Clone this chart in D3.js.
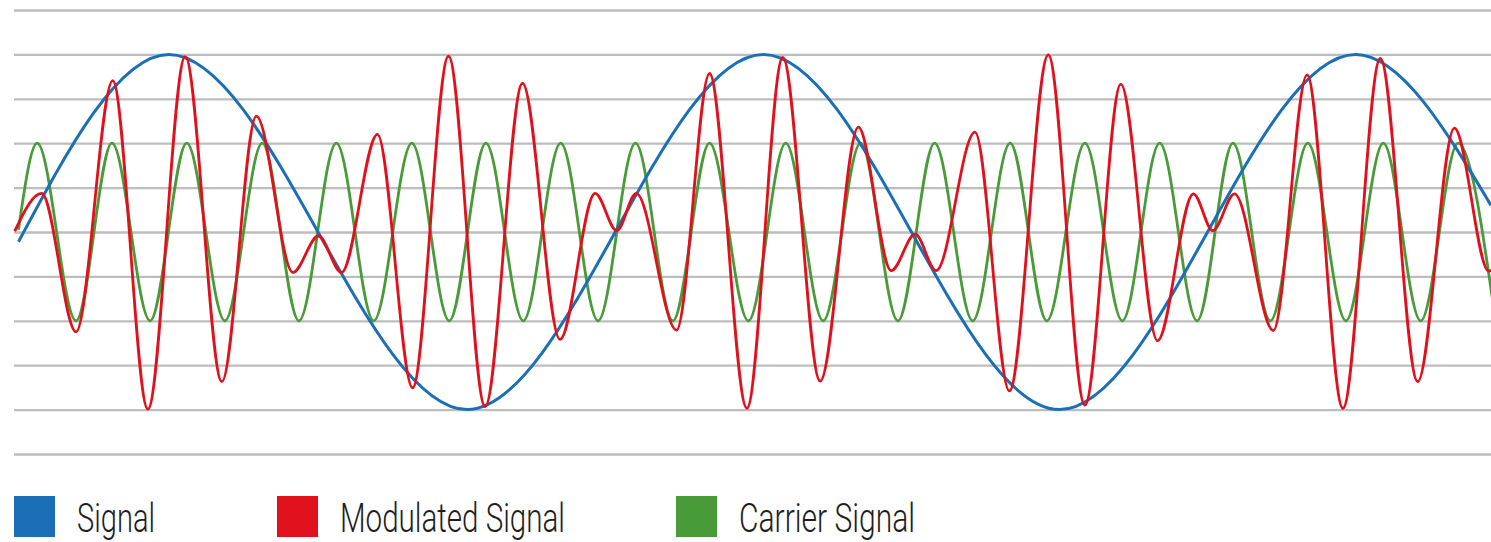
<!DOCTYPE html>
<html>
<head>
<meta charset="utf-8">
<script src="https://cdn.jsdelivr.net/npm/d3@7"></script>
<style>
  html, body { margin: 0; padding: 0; background: #fff; }
  svg { display: block; }
</style>
</head>
<body>
<div id="chart"></div>
<script>
// ===== data (time in ms, amplitude in grid units) =====
const seriesNames = ['Signal', 'Modulated Signal', 'Carrier Signal'];
const gridTicks = [-5, -4, -3, -2, -1, 0, 1, 2, 3, 4, 5];

// signal: start, peaks / troughs, right edge
const signalT = [0.06, 2.07, 6.06, 10.02, 13.98, 17.94, 19.75];
const signalV = [-0.22, 4, -4, 4, -4, 4, 0.6];

// modulated signal: turning points
const modulatedT = [0.01, 0.37, 0.83, 1.32, 1.79, 2.29, 2.78, 3.24, 3.73, 4.07, 4.38, 4.86, 5.33, 5.81,
  6.30, 6.80, 7.30, 7.77, 8.06, 8.32, 8.86, 9.30, 9.80, 10.28, 10.78, 11.29, 11.73, 12.05, 12.33,
  12.85, 13.31, 13.83, 14.32, 14.80, 15.29, 15.77, 16.03, 16.32, 16.84, 17.29, 17.77, 18.27, 18.77,
  19.26, 19.72, 20.03];
const modulatedV = [0.02, 0.87, -2.25, 3.41, -3.99, 3.95, -3.37, 2.61, -0.91, -0.09, -0.91, 2.2, -3.51, 3.96,
  -3.93, 3.35, -2.42, 0.87, 0.03, 0.87, -2.21, 3.57, -3.97, 3.93, -3.36, 2.36, -0.87, -0.05, -0.87,
  2.25, -3.58, 3.99, -3.9, 3.33, -2.45, 0.86, 0.03, 0.86, -2.22, 3.54, -3.97, 3.91, -3.37,
  2.34, -0.88, -0.05];

// carrier: start, then peaks / troughs
const carrierT = [0.06, 0.31, 0.83, 1.31, 1.82, 2.31, 2.82, 3.32, 3.81, 4.31, 4.81, 5.32, 5.82, 6.31,
  6.81, 7.31, 7.81, 8.31, 8.81, 9.30, 9.82, 10.32, 10.82, 11.32, 11.82, 12.31, 12.82, 13.32, 13.81,
  14.32, 14.82, 15.32, 15.82, 16.30, 16.80, 17.30, 17.81, 18.31, 18.81, 19.31, 19.81];
const carrierV = [0.05, 2, -2, 2, -2, 2, -2, 2, -2, 2, -2, 2, -2, 2,
  -2, 2, -2, 2, -2, 2, -2, 2, -2, 2, -2, 2, -2, 2, -2,
  2, -2, 2, -2, 2, -2, 2, -2, 2, -2, 2, -2];

// ===== styles =====
const colors = {
  'Signal': '#1b6fb6',
  'Modulated Signal': '#e0101c',
  'Carrier Signal': '#489b38'
};
const lineWidths = { 'Signal': 3, 'Modulated Signal': 2.8, 'Carrier Signal': 2.8 };
const legendX = { 'Signal': 14, 'Modulated Signal': 277, 'Carrier Signal': 676 };
const legendTextWidth = { 'Signal': 78, 'Modulated Signal': 225, 'Carrier Signal': 176 };

const width = 1491;
const height = 542;
const plot = { left: 14, right: 1491, top: 10, bottom: 454 };

const svg = d3.select('#chart')
  .append('svg')
  .attr('width', width)
  .attr('height', height);

svg.append('rect').attr('width', width).attr('height', height).attr('fill', '#fff');

const x = d3.scaleLinear().domain([0, 19.75]).range([plot.left, plot.right]);
const y = d3.scaleLinear().domain([-5, 5]).range([plot.bottom, plot.top]);

// ===== grid lines =====
const grid = svg.append('g')
  .attr('transform', `translate(${plot.left},0)`)
  .call(d3.axisLeft(y)
    .tickValues(gridTicks)
    .tickSize(-(plot.right - plot.left))
    .tickFormat(''));
grid.select('.domain').remove();
grid.selectAll('.tick line')
  .attr('stroke', '#bdbdbd')
  .attr('stroke-width', 2.3);

// ===== curves =====
const line = d3.line()
  .x(d => x(d.t))
  .y(d => y(d.v))
  .curve(d3.curveMonotoneX);

function zipSeries(ts, vs) {
  return ts.map((t, i) => ({ t: t, v: vs[i] }));
}

const series = {
  'Carrier Signal': zipSeries(carrierT, carrierV),
  'Signal': zipSeries(signalT, signalV),
  'Modulated Signal': zipSeries(modulatedT, modulatedV)
};

// draw order: carrier below, modulated on top
['Carrier Signal', 'Signal', 'Modulated Signal'].forEach(name => {
  svg.append('path')
    .datum(series[name])
    .attr('fill', 'none')
    .attr('stroke', colors[name])
    .attr('stroke-width', lineWidths[name])
    .attr('stroke-linejoin', 'round')
    .attr('d', line);
});

// ===== legend =====
const legend = svg.append('g');
seriesNames.forEach(name => {
  const g = legend.append('g').attr('transform', `translate(${legendX[name]},496)`);
  g.append('rect')
    .attr('width', 41)
    .attr('height', 41)
    .attr('fill', colors[name]);
  g.append('text')
    .attr('x', 63)
    .attr('y', 36)
    .attr('font-family', 'Roboto, "DejaVu Sans Condensed", sans-serif')
    .attr('font-weight', 300)
    .attr('font-size', '40px')
    .attr('fill', '#1e1e1e')
    .attr('textLength', legendTextWidth[name])
    .attr('lengthAdjust', 'spacingAndGlyphs')
    .text(name);
});
</script>
</body>
</html>
